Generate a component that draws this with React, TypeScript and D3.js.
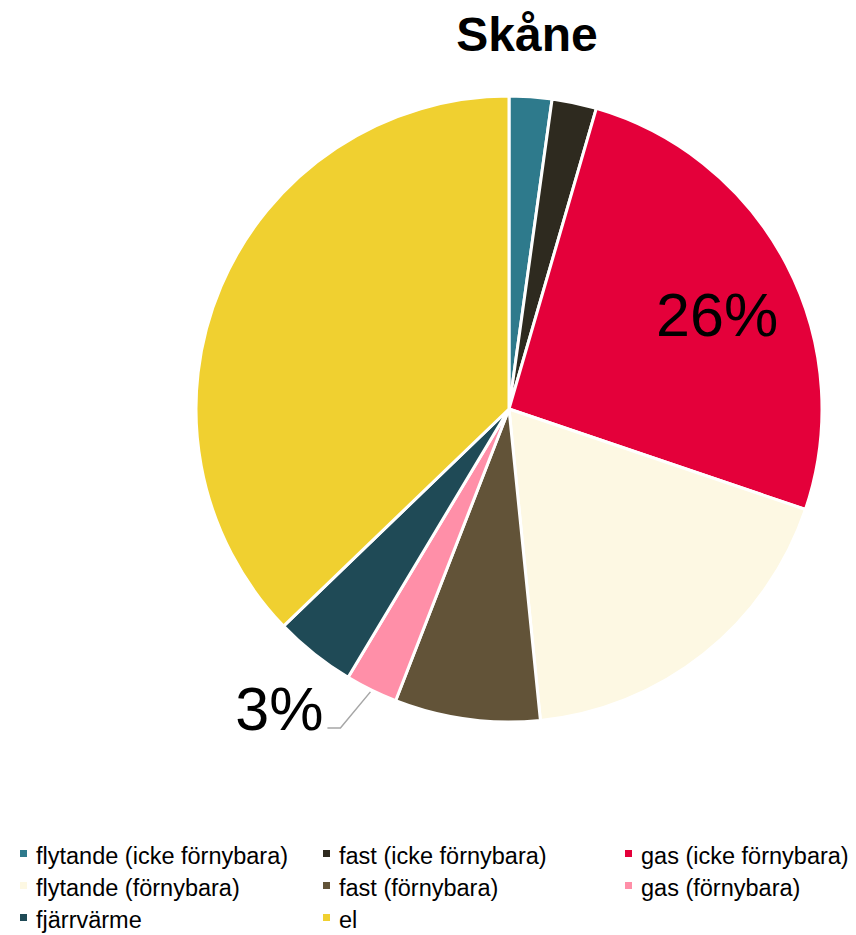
import { useRef, useEffect } from 'react';
import * as d3 from 'd3';

// Andel per energislag, Skåne (procent)
const CATEGORIES = [
  'flytande (icke förnybara)',
  'fast (icke förnybara)',
  'gas (icke förnybara)',
  'flytande (förnybara)',
  'fast (förnybara)',
  'gas (förnybara)',
  'fjärrvärme',
  'el',
];
const VALUES = [2.2, 2.3, 25.7, 18.2, 7.5, 2.7, 4.2, 37.2];
const COLORS = ['#2E7A8C', '#2E2A1F', '#E4003A', '#FDF8E3', '#625338', '#FF8FA8', '#1F4A56', '#F0D030'];
const LABELS = ['', '', '26%', '', '', '3%', '', ''];

export default function App() {
  const ref = useRef<SVGSVGElement>(null);

  useEffect(() => {
    const svg = ref.current;
    if (!svg) return;
    document.body.style.margin = '0';
    document.body.style.overflow = 'hidden';

    const W = 856, H = 935;
    const cx = 509, cy = 409, R = 313;
    const font = 'Liberation Sans, Arial, sans-serif';

    d3.select(svg).selectAll('*').remove();
    const root = d3.select(svg).attr('width', W).attr('height', H).attr('viewBox', `0 0 ${W} ${H}`);

    root.append('rect').attr('width', W).attr('height', H).attr('fill', '#fff');

    // Title
    root.append('text')
      .attr('x', 527).attr('y', 51)
      .attr('text-anchor', 'middle').attr('font-family', font)
      .attr('font-size', 48).attr('font-weight', 'bold').attr('fill', '#000')
      .text('Skåne');

    const data = CATEGORIES.map((c, i) => ({ name: c, value: VALUES[i], color: COLORS[i], label: LABELS[i] }));
    type D = (typeof data)[0];

    const pie = d3.pie<D>().value((d) => d.value).sort(null);
    const arcs = pie(data);
    const arc = d3.arc<d3.PieArcDatum<D>>().innerRadius(0).outerRadius(R);

    const g = root.append('g').attr('transform', `translate(${cx},${cy})`);

    g.selectAll('path.slice')
      .data(arcs)
      .enter()
      .append('path')
      .attr('class', 'slice')
      .attr('d', arc)
      .attr('fill', (d) => d.data.color)
      .attr('stroke', '#fff')
      .attr('stroke-width', 3)
      .attr('stroke-linejoin', 'round');

    // 26% label inside gas slice
    const big = arcs[2];
    const bigArc = d3.arc<d3.PieArcDatum<D>>().innerRadius(R * 0.75).outerRadius(R * 0.75);
    const [bx, by] = bigArc.centroid(big);
    g.append('text')
      .attr('x', bx).attr('y', by + 36)
      .attr('text-anchor', 'middle').attr('font-family', font)
      .attr('font-size', 61).attr('fill', '#000')
      .text(big.data.label);

    // 3% label outside with leader line
    const small = arcs[5];
    const mid = (small.startAngle + small.endAngle) / 2;
    const p0: [number, number] = [Math.sin(mid) * (R + 2), -Math.cos(mid) * (R + 2)];
    const p1: [number, number] = [p0[0] - 30, p0[1] + 36];
    const p2: [number, number] = [p1[0] - 13, p1[1]];
    g.append('polyline')
      .attr('points', [p0, p1, p2].map((p) => p.join(',')).join(' '))
      .attr('fill', 'none').attr('stroke', '#A6A6A6').attr('stroke-width', 1.5);
    g.append('text')
      .attr('x', p2[0] - 4).attr('y', p2[1] + 2)
      .attr('text-anchor', 'end').attr('font-family', font)
      .attr('font-size', 61).attr('fill', '#000')
      .text(small.data.label);

    // Legend
    const colX = [20, 323, 625];
    const rowY = [864, 896, 928];
    const lg = root.append('g');
    data.forEach((d, i) => {
      const x = colX[i % 3];
      const y = rowY[Math.floor(i / 3)];
      lg.append('rect')
        .attr('x', x).attr('y', y - 14).attr('width', 7).attr('height', 7)
        .attr('fill', d.color);
      lg.append('text')
        .attr('x', x + 16).attr('y', y)
        .attr('font-family', font).attr('font-size', 23.5).attr('fill', '#000')
        .text(d.name);
    });
  }, []);

  return (
    <div>
      <svg ref={ref} style={{ display: 'block' }} />
    </div>
  );
}
